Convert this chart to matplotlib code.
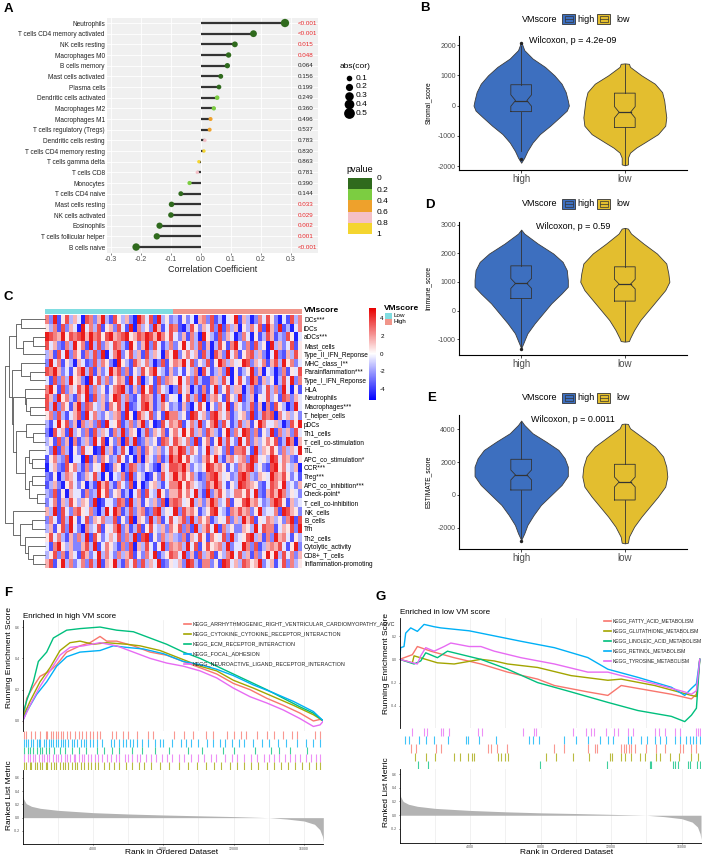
import numpy as np
import matplotlib
matplotlib.use("Agg")
import matplotlib.pyplot as plt
from matplotlib.colors import LinearSegmentedColormap, ListedColormap, BoundaryNorm, Normalize
from matplotlib.colorbar import ColorbarBase
from matplotlib.patches import Rectangle
from matplotlib.lines import Line2D

plt.rcParams.update({
    "font.family": ["Liberation Sans", "DejaVu Sans"],
    "axes.unicode_minus": False,
})

W, H = 708, 857

# ---------------- A: immune cell correlation ----------------
cell_types = ["Neutrophils", "T cells CD4 memory activated", "NK cells resting", "Macrophages M0",
              "B cells memory", "Mast cells activated", "Plasma cells", "Dendritic cells activated",
              "Macrophages M2", "Macrophages M1", "T cells regulatory (Tregs)", "Dendritic cells resting",
              "T cells CD4 memory resting", "T cells gamma delta", "T cells CD8", "Monocytes",
              "T cells CD4 naive", "Mast cells resting", "NK cells activated", "Eosinophils",
              "T cells follicular helper", "B cells naive"]
cell_cor = [0.28, 0.175, 0.113, 0.092, 0.088, 0.066, 0.060, 0.054, 0.043, 0.032, 0.029, 0.013,
            0.010, -0.007, -0.012, -0.038, -0.067, -0.098, -0.100, -0.138, -0.147, -0.216]
pval_labels = ["<0.001", "<0.001", "0.015", "0.048", "0.064", "0.156", "0.199", "0.249", "0.360",
               "0.496", "0.537", "0.783", "0.830", "0.863", "0.781", "0.390", "0.144", "0.033",
               "0.029", "0.002", "0.001", "<0.001"]
size_breaks = [0.1, 0.2, 0.3, 0.4, 0.5]
pval_breaks = [0, 0.2, 0.4, 0.6, 0.8, 1]
pval_colors = ["#2f6a1d", "#7ccd41", "#eea12c", "#f4c0c7", "#f4d530"]

# ---------------- B/D/E: violins (y level, half width) ----------------
vm_groups = ["high", "low"]
vm_colors = ["#3d6fbf", "#e3be2f"]

stromal_high_y = [2110, 1833, 1556, 1278, 1000, 722, 444, 167, 0, -167, -389, -667, -944, -1222, -1500, -1722, -1890]
stromal_high_w = [0, .03, .11, .23, .32, .39, .43, .45, .46, .44, .37, .28, .18, .11, .06, .03, 0]
stromal_low_y = [1395, 1380, 1280, 1000, 722, 444, 167, -111, -389, -667, -944, -1222, -1389, -1556, -1722, -1944, -1975]
stromal_low_w = [0, .04, .05, .16, .29, .36, .38, .39, .40, .39, .32, .19, .11, .05, .03, .03, 0]
stromal_stats = [[-1500, -200, 167, 689, 1980, 190], [-1950, -722, -222, 411, 1380, 190]]
stromal_out = [[2080, -1780], []]

immune_high_y = [2826, 2687, 2339, 1991, 1701, 1412, 1064, 832, 600, 252, -96, -443, -791, -1139, -1313]
immune_high_w = [0, .03, .16, .31, .40, .44, .45, .45, .39, .29, .21, .13, .06, .02, 0]
immune_low_y = [2884, 2860, 2687, 2339, 1991, 1644, 1296, 1006, 716, 368, 20, -327, -675, -965, -1060, -1081]
immune_low_w = [0, .03, .06, .18, .31, .40, .42, .43, .39, .31, .23, .15, .09, .05, .04, 0]
immune_stats = [[-1250, 426, 948, 1562, 2800, 174], [-1070, 333, 925, 1528, 2870, 170]]
immune_out = [[-1320], []]

estimate_high_y = [4529, 4264, 3756, 3247, 2739, 2230, 1722, 1152, 603, -7, -617, -1227, -1837, -2346, -2753]
estimate_high_w = [0, .03, .11, .24, .36, .42, .45, .45, .39, .29, .19, .12, .06, .03, 0]
estimate_low_y = [4345, 4325, 4061, 3552, 2942, 2332, 1722, 1112, 502, -109, -719, -1329, -1939, -2549, -2916, -2956]
estimate_low_w = [0, .03, .05, .16, .29, .37, .40, .41, .39, .32, .24, .16, .09, .04, .03, 0]
estimate_stats = [[-2650, 298, 1214, 2169, 4450, 305], [-2930, -312, 786, 1864, 4300, 305]]
estimate_out = [[-2790], []]

# ---------------- C: ssGSEA heatmap ----------------
sig_names = ["DCs***", "iDCs", "aDCs***", "Mast_cells", "Type_II_IFN_Reponse", "MHC_class_I**",
             "Parainflammation***", "Type_I_IFN_Reponse", "HLA", "Neutrophils", "Macrophages***",
             "T_helper_cells", "pDCs", "Th1_cells", "T_cell_co-stimulation", "TIL",
             "APC_co_stimulation*", "CCR***", "Treg***", "APC_co_inhibition***", "Check-point*",
             "T_cell_co-inhibition", "NK_cells", "B_cells", "Tfh", "Th2_cells", "Cytolytic_activity",
             "CD8+_T_cells", "Inflammation-promoting"]
# digit d -> z-score d - 4.5 ; first half of columns = Low, second half = High
heat_rows = [
    "72915836 40872693 18536209 74819352 31524067 28130459 16302748 52041837",
    "53718264 09473815 62841907 35296148 71038526 48291736 05374819 62913047",
    "98769587 89697858 96789568 79869758 42617309 53182640 27405138 61328504",
    "84621739 57193826 48731952 69284137 25947381 60385179 42718350 93624815",
    "36184927 51738290 47925836 18364075 92574618 30862947 15783620 49216385",
    "29471530 64128375 20953186 47302815 76948253 81597364 59826471 68395724",
    "87962415 79381624 96827153 85794316 24153708 41362905 13592604 30271548",
    "41827395 62094837 25761948 03518276 59472831 17638405 84297163 50384927",
    "79518264 86927351 47893162 95817430 28460317 14925836 60371248 37294051",
    "86295731 74918362 59837214 87613925 40583719 26741853 91360548 35187264",
    "83927516 92874361 75839124 89613752 31620485 05274916 42381607 18530294",
    "57283146 81947325 36719508 64825197 73519846 28964713 56291387 80746352",
    "31495826 07362819 45813726 92501847 68147392 57928413 83615974 46302859",
    "20846193 52718364 17392650 38264715 74958362 86315927 49827153 91736284",
    "35182607 13629480 52708391 26351874 86472915 71593842 94826357 58139706",
    "42917305 28450193 61384027 17536248 69837524 93652817 78419365 85273649",
    "15732804 40916275 23851407 06427139 79584326 85931674 67298453 98476215",
    "04621857 31725490 16502873 25310648 87962435 98675142 76893521 89574360",
    "21503764 12648305 04371925 30152846 96857312 78964523 89732654 97685241",
    "13620574 25031968 31742805 02563147 79586432 86974153 98765214 87593426",
    "32815064 41723958 25613047 18439526 68574931 92685347 75849216 86973542",
    "24716385 36529014 42871936 15362807 87459362 69734815 58967423 79851634",
    "63918427 85472039 49713826 71289354 92867513 58943176 86725934 47198652",
    "27418395 14826573 38152906 52937148 46829375 71354826 39681547 63527918",
    "36158294 20734815 47926138 15843627 58271936 84917352 26539487 71465829",
    "58473162 73918524 64827391 89152736 32716485 17548293 45893617 29674153",
    "41795362 26839147 53172806 38415927 67394815 85673924 49728136 76841592",
    "35827164 18624937 42736815 27491358 74926183 68153794 83617259 59384726",
    "68159372 47283916 59317482 83649125 46298317 72519846 38756924 61482735",
]
# row dendrogram: [left, right, merge height]
row_tree = [
    [[[0, 1, 73], [[2, 3, 35], 4, 67], 87],
     [[5, [6, 7, 45], 73],
      [[8, [9, [10, 11, 45], 57], 60],
       [[12, [13, 14, 35], 57],
        [[15, [16, 17, 38], 47], [[18, 19, 38], [20, 21, 25], 47], 60], 87], 97], 100], 108],
    [22, [[23, 24, 40], [25, [26, [27, 28, 35], 50], 60], 75], 95],
    120]
low_col, high_col = "#80dde1", "#f0958a"

# ---------------- F/G: GSEA ----------------
gsea_colors = ["#F8766D", "#A3A500", "#00BF7D", "#00B0F6", "#E76BF3"]
n_rank = 17100
names_F = ["KEGG_ARRHYTHMOGENIC_RIGHT_VENTRICULAR_CARDIOMYOPATHY_ARVC",
           "KEGG_CYTOKINE_CYTOKINE_RECEPTOR_INTERACTION", "KEGG_ECM_RECEPTOR_INTERACTION",
           "KEGG_FOCAL_ADHESION", "KEGG_NEUROACTIVE_LIGAND_RECEPTOR_INTERACTION"]
names_G = ["KEGG_FATTY_ACID_METABOLISM", "KEGG_GLUTATHIONE_METABOLISM", "KEGG_LINOLEIC_ACID_METABOLISM",
           "KEGG_RETINOL_METABOLISM", "KEGG_TYROSINE_METABOLISM"]

rank_F_red = [0, 226, 605, 984, 1553, 1933, 2502, 3260, 3829, 4398, 4778, 5347, 6295, 7243, 8192, 9140,
              10088, 11037, 11985, 12933, 13882, 14830, 15778, 16537, 16916, 17106]
es_F_red = [-0.015, 0.145, 0.22, 0.285, 0.32, 0.36, 0.44, 0.48, 0.50, 0.54, 0.51, 0.51, 0.48, 0.44, 0.42,
            0.38, 0.34, 0.30, 0.24, 0.20, 0.145, 0.10, 0.05, 0.0, 0.01, 0.0]
rank_F_olive = [0, 415, 984, 1553, 2122, 2691, 3260, 4019, 4778, 5916, 6674, 7812, 8950, 10088, 11037,
                11985, 13123, 14261, 15399, 16537, 17106]
es_F_olive = [0.02, 0.125, 0.25, 0.34, 0.45, 0.50, 0.51, 0.49, 0.50, 0.49, 0.48, 0.45, 0.40, 0.35, 0.32,
              0.26, 0.21, 0.155, 0.10, 0.04, 0.0]
rank_F_green = [0, 226, 605, 890, 1364, 1743, 2502, 3260, 4398, 5347, 6295, 7243, 8192, 9140, 10088,
                11037, 11985, 12933, 13882, 14830, 15778, 16537, 17106]
es_F_green = [0.04, 0.13, 0.25, 0.38, 0.44, 0.53, 0.58, 0.59, 0.60, 0.58, 0.57, 0.53, 0.49, 0.44, 0.40,
              0.35, 0.30, 0.25, 0.20, 0.145, 0.09, 0.05, 0.0]
rank_F_blue = [0, 226, 795, 1364, 1933, 2502, 3260, 4398, 5157, 5916, 6864, 8002, 9140, 10088, 11037,
               11985, 13123, 14261, 15399, 16537, 17106]
es_F_blue = [0.0, 0.06, 0.17, 0.25, 0.35, 0.41, 0.44, 0.45, 0.48, 0.47, 0.46, 0.43, 0.38, 0.36, 0.33,
             0.29, 0.23, 0.18, 0.125, 0.06, 0.0]
rank_F_purple = [0, 415, 984, 1553, 2122, 2691, 3450, 4398, 5347, 6295, 7243, 8192, 9140, 10088, 11037,
                 11985, 12933, 13882, 14830, 15778, 16537, 16916, 17106]
es_F_purple = [0.0, 0.10, 0.22, 0.32, 0.42, 0.47, 0.48, 0.50, 0.48, 0.44, 0.40, 0.37, 0.35, 0.32, 0.275,
               0.21, 0.155, 0.115, 0.07, 0.015, -0.035, -0.025, 0.0]

rank_G_red = [0, 719, 1003, 1762, 3090, 4607, 6124, 7831, 8780, 10676, 11814, 12573, 13521, 15418, 16556,
              16840, 17030]
es_G_red = [0, 0.04, 0.11, 0.07, 0.014, -0.04, -0.11, -0.17, -0.225, -0.28, -0.31, -0.225, -0.25, -0.30,
            -0.34, -0.30, 0.0]
rank_G_olive = [0, 719, 814, 2141, 3090, 4607, 5366, 6124, 7831, 9728, 11814, 12573, 14470, 16556, 16840, 17030]
es_G_olive = [0, -0.03, 0.03, -0.03, -0.04, 0, -0.014, -0.04, -0.07, -0.14, -0.18, -0.17, -0.225, -0.31,
              -0.32, 0.0]
rank_G_green = [0, 814, 1193, 1478, 2141, 2710, 4607, 6124, 7831, 9728, 11814, 13521, 15418, 16177, 16556,
                16840, 17030]
es_G_green = [0, -0.04, -0.014, 0.056, 0.014, 0.07, 0, -0.085, -0.20, -0.28, -0.37, -0.44, -0.49, -0.535,
              -0.48, -0.42, 0.0]
rank_G_blue = [0, 55, 245, 340, 624, 1003, 1383, 1952, 2331, 3943, 6883, 8780, 10676, 11814, 13521, 15418,
               16177, 16556, 16840, 17030]
es_G_blue = [0, 0.10, 0.11, 0.225, 0.27, 0.24, 0.30, 0.28, 0.27, 0.245, 0.155, 0.10, 0.015, -0.085, -0.155,
             -0.24, -0.31, -0.25, -0.21, 0.0]
rank_G_purple = [0, 1003, 1193, 1478, 1952, 2521, 2900, 3943, 4607, 5366, 6883, 8780, 10676, 11814, 12573,
                 14470, 16177, 16556, 16840, 17030]
es_G_purple = [0, -0.04, 0.03, 0.10, 0.07, 0.11, 0.14, 0.11, 0.11, 0.07, 0.014, -0.04, -0.11, -0.11, -0.14,
               -0.21, -0.28, -0.30, -0.27, 0.0]

# hit positions (thousands of ranks)
hits_F_red = [0.1, 0.2, 0.5, 0.7, 1.0, 1.3, 1.4, 1.6, 1.7, 1.9, 2.0, 2.2, 2.3, 2.5, 2.7, 3.0, 3.2, 3.4, 3.6,
              3.8, 4.0, 4.2, 4.4, 5.1, 5.3, 5.7, 6.0, 6.5, 7.1, 7.4, 8.6, 9.2, 9.7, 10.4, 10.8, 11.6, 12.0,
              12.4, 12.7, 13.3, 13.9, 14.3, 14.8, 15.3, 15.6, 16.6, 16.9]
hits_F_olive = [0.1, 0.2, 0.4, 0.5, 0.7, 0.8, 1.0, 1.1, 1.3, 1.4, 1.6, 1.8, 1.9, 2.1, 2.3, 2.4, 2.6, 2.8,
                3.0, 3.1, 3.3, 3.5, 3.7, 3.9, 4.1, 4.3, 4.6, 4.9, 5.2, 5.5, 5.9, 6.2, 6.6, 6.9, 7.3, 7.8,
                8.3, 8.9, 9.4, 9.9, 10.4, 10.9, 11.3, 11.8, 12.2, 12.6, 13.0, 13.4, 13.9, 14.3, 14.7, 15.1,
                15.5, 15.9, 16.3, 16.7, 16.9]
hits_F_green = [0.1, 0.3, 0.4, 0.6, 0.8, 1.0, 1.1, 1.3, 1.5, 1.8, 2.1, 2.4, 2.8, 3.2, 3.6, 4.2, 4.6, 5.1,
                5.5, 6.2, 6.8, 7.5, 8.3, 9.4, 10.2, 11.4, 12.0, 13.2, 14.1, 14.6, 15.2, 16.2]
hits_F_blue = [0.1, 0.2, 0.3, 0.5, 0.6, 0.8, 0.9, 1.0, 1.2, 1.3, 1.5, 1.6, 1.7, 1.9, 2.0, 2.2, 2.3, 2.4,
               2.6, 2.8, 2.9, 3.1, 3.3, 3.5, 3.6, 3.8, 4.0, 4.2, 4.5, 5.0, 5.2, 5.5, 5.7, 5.9, 6.1, 6.3,
               6.5, 6.8, 7.1, 7.5, 7.8, 8.0, 8.5, 9.0, 9.3, 9.6, 10.0, 10.5, 10.8, 11.2, 11.5, 11.9, 12.3,
               12.6, 13.1, 13.6, 14.0, 14.5, 15.0, 15.6, 16.1, 16.5, 16.9]
hits_F_purple = [0.1, 0.3, 0.4, 0.6, 0.7, 0.9, 1.1, 1.2, 1.4, 1.5, 1.7, 1.9, 2.0, 2.2, 2.4, 2.5, 2.7, 2.9,
                 3.0, 3.2, 3.4, 3.5, 3.7, 3.9, 4.1, 4.3, 4.5, 4.8, 5.0, 5.3, 5.5, 5.8, 6.0, 6.2, 6.5, 6.7,
                 7.0, 7.3, 7.6, 7.9, 8.2, 8.5, 8.9, 9.2, 9.6, 10.0, 10.3, 10.7, 11.0, 11.5, 11.9, 12.2,
                 12.6, 13.0, 13.3, 13.7, 14.0, 14.3, 14.6, 14.9, 15.2, 15.5, 15.8, 16.1, 16.4, 16.7, 16.9]
hits_G_red = [0.66, 0.91, 2.05, 2.37, 4.99, 5.18, 5.52, 6.09, 8.78, 9.31, 10.68, 11.06, 11.21, 12.57, 12.73,
              12.86, 12.99, 13.14, 13.33, 14.0, 14.57, 15.08, 15.89, 16.08, 16.56, 16.84]
hits_G_olive = [0.85, 1.48, 1.99, 3.09, 3.43, 3.85, 4.08, 4.23, 5.56, 5.75, 5.97, 6.13, 8.31, 8.88, 9.82,
                10.77, 11.91, 12.04, 12.57, 12.76, 13.11, 13.62, 13.9, 14.57, 14.76, 15.32, 15.84, 16.56,
                16.94]
hits_G_green = [1.04, 1.61, 7.98, 11.78, 14.19, 14.28, 15.51, 15.65, 15.8, 16.37, 16.46, 16.9, 17.03]
hits_G_blue = [0.28, 0.53, 1.1, 1.48, 1.95, 2.75, 3.75, 3.85, 4.51, 5.46, 7.36, 7.55, 7.93, 9.35, 10.01,
               10.68, 11.34, 11.82, 12.1, 12.95, 13.11, 13.71, 14.05, 14.47, 14.76, 15.13, 15.61, 15.89,
               16.27, 16.46, 16.65, 16.84, 17.03]
hits_G_purple = [0.72, 1.38, 1.57, 2.33, 2.48, 2.81, 4.46, 4.65, 6.98, 7.6, 7.74, 9.82, 10.58, 10.87, 11.02,
                 11.72, 12.16, 12.38, 12.95, 13.24, 14.51, 14.7, 15.04, 15.65, 15.89, 16.84, 16.94, 17.03]

metric_rank = [0, 50, 200, 500, 1000, 2000, 4000, 6000, 8000, 10000, 12000, 14000, 15000, 16000, 16600,
               16900, 17050, 17100]
metric_F = [0.36, 0.28, 0.21, 0.17, 0.14, 0.11, 0.075, 0.055, 0.04, 0.028, 0.016, 0.0, -0.02, -0.05, -0.10,
            -0.18, -0.28, -0.36]
metric_G = [0.35, 0.27, 0.20, 0.16, 0.13, 0.10, 0.07, 0.05, 0.035, 0.025, 0.013, 0.0, -0.02, -0.05, -0.10,
            -0.17, -0.27, -0.35]


# ---------------- helpers ----------------
def rect(x0, y0, x1, y1):
    return [x0 / W, 1 - y1 / H, (x1 - x0) / W, (y1 - y0) / H]


def fx(x):
    return x / W


def fy(y):
    return 1 - y / H


def ftext(x, y, s, **kw):
    fig.text(fx(x), fy(y), s, **kw)


def dot_size(r):
    return 5 + 110 * abs(r)


fig = plt.figure(figsize=(W / 100, H / 100), dpi=100)
fig.patch.set_facecolor("white")

for lab, (lx, ly) in zip("ABCDEFG", [(8, 9), (425, 8), (8, 297), (430, 205), (432, 398), (8, 593), (381, 597)]):
    ftext(lx, ly, lab, fontsize=9.5, fontweight="bold", ha="center", va="center")

# ---------------- panel A ----------------
pcmap = ListedColormap(pval_colors)
pnorm = BoundaryNorm(pval_breaks, pcmap.N)
cell_pval = [float(p.replace("<", "")) for p in pval_labels]

axA = fig.add_axes(rect(107, 18, 318, 253))
n_cells = len(cell_types)
ypos = np.arange(n_cells)[::-1]
axA.set_facecolor("#f0f0f0")
axA.hlines(ypos, 0, cell_cor, color="#333333", lw=1.6, zorder=2)
axA.scatter(cell_cor, ypos, s=[dot_size(c) for c in cell_cor], c=cell_pval, cmap=pcmap, norm=pnorm,
            zorder=3, linewidths=0)
for y, lab, p in zip(ypos, pval_labels, cell_pval):
    axA.text(0.322, y, lab, fontsize=4.5, va="center", ha="left",
             color="#e8262a" if p < 0.05 else "#222222")
axA.set_xlim(-0.313, 0.39)
axA.set_ylim(-0.56, n_cells - 0.53)
axA.set_xticks([-0.3, -0.2, -0.1, 0, 0.1, 0.2, 0.3])
axA.set_xticklabels(["-0.3", "-0.2", "-0.1", "0.0", "0.1", "0.2", "0.3"])
axA.set_yticks(ypos)
axA.set_yticklabels(cell_types)
axA.tick_params(axis="y", length=0, pad=1.5, labelsize=4.7, labelcolor="#222222")
axA.tick_params(axis="x", length=1.5, pad=1, labelsize=5, labelcolor="#4d4d4d", color="#4d4d4d", width=0.5)
axA.grid(color="white", lw=0.6)
axA.set_axisbelow(True)
for s in axA.spines.values():
    s.set_visible(False)
axA.set_xlabel("Correlation Coefficient", fontsize=6.5, labelpad=1, color="#222222")

legS = fig.add_axes(rect(335, 60, 420, 120))
legS.set_xlim(335, 420)
legS.set_ylim(120, 60)
legS.axis("off")
legS.text(340, 67, "abs(cor)", fontsize=6, va="center")
for i, b in enumerate(size_breaks):
    yy = 78 + 8.8 * i
    legS.scatter([348.5], [yy], s=dot_size(b), color="black", linewidths=0)
    legS.text(355.5, yy, f"{b:.1f}", fontsize=6, va="center")

ftext(346, 169, "pvalue", fontsize=6.5, va="center")
caxP = fig.add_axes(rect(348, 178, 372, 234))
cbP = ColorbarBase(caxP, cmap=pcmap, norm=pnorm, ticks=pval_breaks)
cbP.outline.set_visible(False)
cbP.set_ticklabels(["0", "0.2", "0.4", "0.6", "0.8", "1"])
caxP.invert_yaxis()
caxP.tick_params(length=0, labelsize=6, pad=3)

# ---------------- panel C ----------------
heat = np.array([[int(c) - 4.5 for c in "".join(r.split())] for r in heat_rows])
hnorm = Normalize(-5.2, 5.1)
hcmap = LinearSegmentedColormap.from_list("ph", [(0, "#0000ff"), (5.2 / 10.3, "#ffffff"), (1, "#e80000")])

axH = fig.add_axes(rect(45, 315, 302, 568))
axH.imshow(heat, cmap=hcmap, norm=hnorm, aspect="auto", interpolation="nearest")
axH.set_xticks([])
axH.yaxis.tick_right()
axH.set_yticks(range(len(sig_names)))
axH.set_yticklabels(sig_names, fontsize=4.7)
axH.tick_params(axis="y", length=0, pad=1.5)
for s in axH.spines.values():
    s.set_visible(False)

n_low = heat.shape[1] // 2
axAnn = fig.add_axes(rect(45, 309, 302, 314))
axAnn.imshow(np.array([[0] * n_low + [1] * (heat.shape[1] - n_low)]),
             cmap=ListedColormap([low_col, high_col]), aspect="auto", interpolation="nearest")
axAnn.axis("off")
ftext(304, 311, "VMscore", fontsize=6, fontweight="bold", va="center")

axD = fig.add_axes(rect(5, 315, 45, 568))


def draw_tree(node):
    if isinstance(node, int):
        return node, 0.0
    left, right, h = node
    ly, lh = draw_tree(left)
    ry, rh = draw_tree(right)
    axD.plot([-lh, -h, -h, -rh], [ly, ly, ry, ry], color="#555555", lw=0.6, clip_on=False)
    return (ly + ry) / 2, h


draw_tree(row_tree)
axD.set_xlim(-120, 0)
axD.set_ylim(len(sig_names) - 0.5, -0.5)
axD.axis("off")

caxH = fig.add_axes(rect(369, 308, 376, 400))
cbH = ColorbarBase(caxH, cmap=hcmap, norm=hnorm, ticks=[-4, -2, 0, 2, 4])
cbH.outline.set_visible(False)
caxH.tick_params(length=0, labelsize=4.5, pad=3)

ftext(384, 309, "VMscore", fontsize=6, fontweight="bold", va="center")
for i, (lab, col) in enumerate([("Low", low_col), ("High", high_col)]):
    y0 = 313 + 6 * i
    fig.add_artist(Rectangle((fx(385), fy(y0 + 5.5)), 7 / W, 5.5 / H, transform=fig.transFigure,
                             facecolor=col, edgecolor="none"))
    ftext(394, y0 + 2.8, lab, fontsize=4.5, va="center")


# ---------------- panels B, D, E ----------------
def draw_key(x0, yc, col):
    fig.add_artist(Rectangle((fx(x0), fy(yc + 5)), 13 / W, 10 / H, transform=fig.transFigure,
                             facecolor=col, edgecolor="#333333", lw=0.6))
    fig.add_artist(Rectangle((fx(x0 + 2.5), fy(yc + 3)), 8 / W, 6 / H, transform=fig.transFigure,
                             facecolor="none", edgecolor="#333333", lw=0.5))
    fig.add_artist(Line2D([fx(x0 + 2.5), fx(x0 + 10.5)], [fy(yc), fy(yc)], transform=fig.transFigure,
                          color="#333333", lw=0.5))


def violin_panel(r, ylim, yticks, ylabel, shapes, stats, outliers, ptext, p_y, leg_y):
    ax = fig.add_axes(rect(*r))
    for k in range(2):
        ys, hw = np.array(shapes[k][0]), np.array(shapes[k][1])
        xc = k + 1
        ax.fill_betweenx(ys, xc - hw, xc + hw, facecolor=vm_colors[k], edgecolor="#3c3c3c", lw=0.6, zorder=2)
        wlo, q1, med, q3, whi, nt = stats[k]
        bw, nw = 0.1, 0.055
        ax.plot([xc, xc], [q3, whi], color="#333333", lw=0.6, zorder=3)
        ax.plot([xc, xc], [wlo, q1], color="#333333", lw=0.6, zorder=3)
        bx = [xc - bw, xc - bw, xc - nw, xc - bw, xc - bw, xc + bw, xc + bw, xc + nw, xc + bw, xc + bw, xc - bw]
        by = [q1, med - nt, med, med + nt, q3, q3, med + nt, med, med - nt, q1, q1]
        ax.plot(bx, by, color="#333333", lw=0.6, zorder=3)
        ax.plot([xc - nw, xc + nw], [med, med], color="#333333", lw=0.9, zorder=3)
        if outliers[k]:
            ax.scatter([xc] * len(outliers[k]), outliers[k], s=6, color="#222222", zorder=4, linewidths=0)
    ax.set_xlim(0.4, 2.6)
    ax.set_ylim(*ylim)
    ax.set_xticks([1, 2])
    ax.set_xticklabels(vm_groups)
    ax.set_yticks(yticks)
    ax.tick_params(axis="x", labelsize=7, labelcolor="#4d4d4d", length=2, pad=1, width=0.5)
    ax.tick_params(axis="y", labelsize=5, labelcolor="#4d4d4d", length=1.5, pad=0.8, width=0.5)
    for s in ["top", "right"]:
        ax.spines[s].set_visible(False)
    for s in ["left", "bottom"]:
        ax.spines[s].set_linewidth(0.8)
    ax.text(1.5, p_y, ptext, ha="center", va="center", fontsize=6.5)
    ftext(428, (r[1] + r[3]) / 2, ylabel, rotation=90, fontsize=4.8, ha="center", va="center")
    ftext(522, leg_y, "VMscore", fontsize=6.5, va="center")
    for k, (x0, lx) in enumerate([(562, 577), (597, 616)]):
        draw_key(x0, leg_y, vm_colors[k])
        ftext(lx, leg_y, vm_groups[k], fontsize=6.5, va="center")


violin_panel((459, 36, 687, 170), (-2130, 2300), [-2000, -1000, 0, 1000, 2000], "Stromal_score",
             [(stromal_high_y, stromal_high_w), (stromal_low_y, stromal_low_w)], stromal_stats, stromal_out,
             "Wilcoxon, p = 4.2e-09", 2165, 19)
violin_panel((459, 222, 687, 355), (-1546, 3090), [-1000, 0, 1000, 2000, 3000], "Immune_score",
             [(immune_high_y, immune_high_w), (immune_low_y, immune_low_w)], immune_stats, immune_out,
             "Wilcoxon, p = 0.59", 2940, 204)
violin_panel((459, 415, 687, 549), (-3300, 4870), [-2000, 0, 2000, 4000], "ESTIMATE_score",
             [(estimate_high_y, estimate_high_w), (estimate_low_y, estimate_low_w)], estimate_stats,
             estimate_out, "Wilcoxon, p = 0.0011", 4570, 398)


# ---------------- panels F, G ----------------
def gsea_panel(x0, x1, ys, es_ylim, es_ticks, met_ylim, curves, hits, hit_order, metric, names,
               title, title_xy, leg_x, leg_y0, leg_fs, ylab_x, ylab_es_y, ylab_met_y, xlab_xy):
    y_es0, y_hit0, y_met0, y_met1 = ys
    rank_ticks = [4000, 8000, 12000, 16000]
    rank_minor = [2000, 6000, 10000, 14000]

    axE = fig.add_axes(rect(x0, y_es0, x1, y_hit0))
    for k, (rk, es) in enumerate(curves):
        axE.plot(rk, es, color=gsea_colors[k], lw=1.0)
    for i in range(len(names)):
        yy = leg_y0 + 10 * i
        axE.plot([fx(leg_x), fx(leg_x + 7)], [fy(yy), fy(yy)], transform=fig.transFigure,
                 color=gsea_colors[i], lw=1.2, clip_on=False)
        axE.text(fx(leg_x + 8.5), fy(yy), names[i], transform=fig.transFigure, fontsize=leg_fs,
                 va="center", clip_on=False, color="#222222")
    axE.set_xlim(0, n_rank)
    axE.set_ylim(*es_ylim)
    axE.set_xticks(rank_ticks)
    axE.set_xticks(rank_minor, minor=True)
    axE.set_xticklabels([])
    axE.tick_params(axis="x", which="both", length=0)
    axE.set_yticks(es_ticks)
    axE.set_yticklabels([f"{t:.1f}" for t in es_ticks])
    axE.tick_params(axis="y", labelsize=2.5, length=1, pad=0.8, labelcolor="#4d4d4d", width=0.4)
    axE.grid(axis="x", which="both", color="#ebebeb", lw=0.5)
    for s in ["top", "right", "bottom"]:
        axE.spines[s].set_visible(False)
    axE.spines["left"].set_linewidth(0.6)

    axT = fig.add_axes(rect(x0, y_hit0, x1, y_met0))
    nrow = len(hit_order)
    for row, k in enumerate(hit_order):
        axT.vlines(np.array(hits[k]) * 1000, nrow - row - 1, nrow - row, color=gsea_colors[k],
                   lw=0.8, alpha=0.75)
    axT.set_xlim(0, n_rank)
    axT.set_ylim(0, nrow)
    axT.axis("off")

    axM = fig.add_axes(rect(x0, y_met0, x1, y_met1))
    axM.fill_between(metric_rank, 0, metric, color="#b3b3b3", lw=0)
    axM.set_xlim(0, n_rank)
    axM.set_ylim(*met_ylim)
    axM.set_xticks(rank_ticks)
    axM.set_xticks(rank_minor, minor=True)
    axM.set_xticklabels([str(t) for t in rank_ticks])
    axM.set_yticks([-0.2, 0.0, 0.2, 0.4, 0.6])
    axM.set_yticklabels(["-0.2", "0.0", "0.2", "0.4", "0.6"])
    axM.tick_params(axis="both", labelsize=2.5, length=1, pad=0.8, labelcolor="#4d4d4d", width=0.4)
    axM.tick_params(axis="x", which="minor", length=0)
    axM.grid(axis="x", which="both", color="#ebebeb", lw=0.5)
    axM.set_axisbelow(True)
    for s in ["top", "right"]:
        axM.spines[s].set_visible(False)
    for s in ["left", "bottom"]:
        axM.spines[s].set_linewidth(0.6)

    ftext(title_xy[0], title_xy[1], title, fontsize=5.8, va="center")
    ftext(ylab_x, ylab_es_y, "Running Enrichment Score", rotation=90, fontsize=6, ha="center", va="center")
    ftext(ylab_x, ylab_met_y, "Ranked List Metric", rotation=90, fontsize=6, ha="center", va="center")
    ftext(xlab_xy[0], xlab_xy[1], "Rank in Ordered Dataset", fontsize=6, ha="center", va="center")


gsea_panel(22.7, 323.3, (620, 731, 770, 844), (-0.064, 0.645), [0.0, 0.2, 0.4, 0.6], (-0.396, 0.716),
           [(rank_F_red, es_F_red), (rank_F_olive, es_F_olive), (rank_F_green, es_F_green),
            (rank_F_blue, es_F_blue), (rank_F_purple, es_F_purple)],
           [hits_F_red, hits_F_olive, hits_F_green, hits_F_blue, hits_F_purple], [0, 3, 2, 4, 1],
           metric_F, names_F, "Enriched in high VM score", (23, 616), 184, 624, 3.9, 10, 657, 795, (172, 853))
gsea_panel(399.7, 701, (618, 728, 769, 843), (-0.59, 0.355), [-0.4, -0.2, 0.0, 0.2], (-0.404, 0.673),
           [(rank_G_red, es_G_red), (rank_G_olive, es_G_olive), (rank_G_green, es_G_green),
            (rank_G_blue, es_G_blue), (rank_G_purple, es_G_purple)],
           [hits_G_red, hits_G_olive, hits_G_green, hits_G_blue, hits_G_purple], [4, 3, 0, 1, 2],
           metric_G, names_G, "Enriched in low VM score", (400, 613), 604, 621, 3.6, 386, 663, 792, (567, 852))

fig.savefig("out.png", dpi=100)
